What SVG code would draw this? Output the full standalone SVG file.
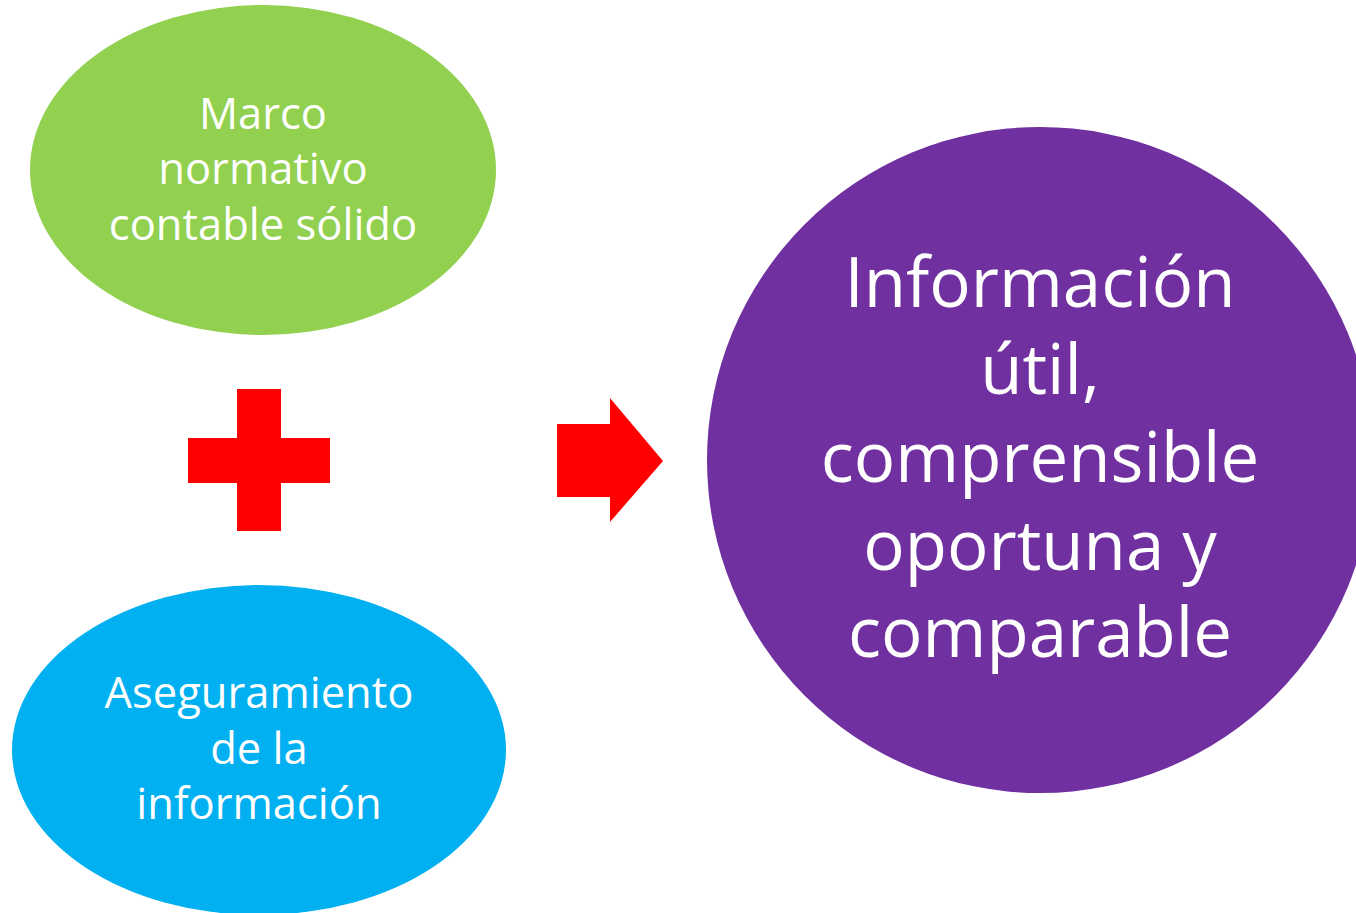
<svg xmlns="http://www.w3.org/2000/svg" width="1356" height="913" viewBox="0 0 1356 913">
<style>
.t{font-family:"Open Sans","Liberation Sans",sans-serif;fill:#fff;text-anchor:middle;font-variant-ligatures:none}
.s{font-size:43.5px}
.b{font-size:69px}
</style>
<rect width="1356" height="913" fill="#fff"/>
<g id="marco">
<ellipse cx="263" cy="170" rx="233" ry="165" fill="#92D050"/>
<text class="t s" x="263" y="129">Marco</text>
<text class="t s" x="263" y="184">normativo</text>
<text class="t s" x="263" y="240">contable sólido</text>
</g>
<g id="aseguramiento">
<ellipse cx="259" cy="750" rx="247" ry="165" fill="#00B0F0"/>
<text class="t s" x="259" y="708">Aseguramiento</text>
<text class="t s" x="259" y="764">de la</text>
<text class="t s" x="259" y="819">información</text>
</g>
<g id="informacion">
<circle cx="1040" cy="460" r="333" fill="#7030A0"/>
<text class="t b" x="1040" y="307">Información</text>
<text class="t b" x="1040" y="394">útil,</text>
<text class="t b" x="1040" y="482">comprensible</text>
<text class="t b" x="1040" y="570">oportuna y</text>
<text class="t b" x="1040" y="657">comparable</text>
</g>
<g id="connectors">
<path id="plus" d="M237 389H281V438H330V483H281V531H237V483H188V438H237Z" fill="#FF0000"/>
<path id="arrow" d="M557 424H610V398L663 461L610 522V497H557Z" fill="#FF0000"/>
</g>
</svg>
